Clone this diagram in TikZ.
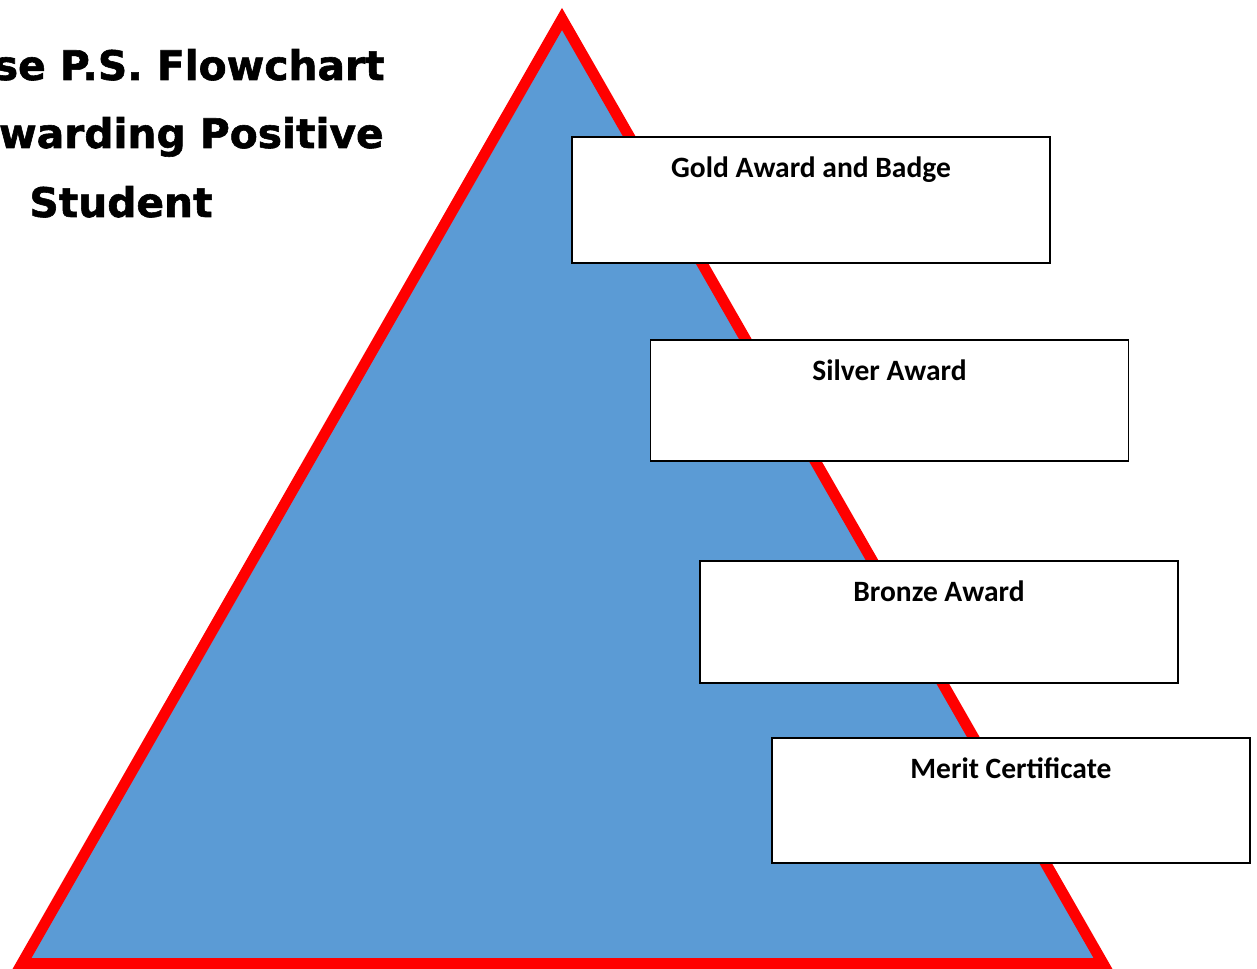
\documentclass[tikz,border=0pt]{standalone}
\usepackage{fontspec}
\setmainfont{Carlito}
\newfontfamily\titlefont[BoldFont={DejaVu Sans Bold},BoldFeatures={FakeBold=1.4}]{DejaVu Sans}
\usetikzlibrary{positioning}
\definecolor{pyrblue}{RGB}{91,155,213}
\definecolor{pyrred}{RGB}{255,0,0}

\begin{document}
\begin{tikzpicture}[x=0.02cm,y=-0.02cm,
    awardbox/.style={draw=black,line width=1pt,fill=white,inner sep=0pt,minimum width=9.56cm},
    awardtext/.style={font=\bfseries\fontsize{16.8pt}{19pt}\selectfont,anchor=base,inner sep=0pt},
    titletext/.style={font=\titlefont\bfseries\fontsize{23.2pt}{38.5pt}\selectfont,inner sep=0pt}]

\useasboundingbox (0,0) rectangle (1257,969);

% pyramid
\filldraw[fill=pyrblue,draw=pyrred,line width=0.22cm,miter limit=4]
    (562,19) -- (22,963.5) -- (1103,963.5) -- cycle;

% title
\node[titletext,anchor=base east] (title1) at (385,80) {se P.S. Flowchart};
\node[titletext,anchor=base east] (title2) at (384,148) {warding Positive};
\node[titletext,anchor=base] (title3) at (121,217) {Student};

% award boxes
\node[awardbox,minimum height=2.52cm] (gold) at (811,200) {};
\node[awardbox,minimum height=2.42cm] (silver) at (889.5,400.5) {};
\node[awardbox,minimum height=2.44cm] (bronze) at (939,622) {};
\node[awardbox,minimum height=2.50cm] (merit) at (1011,800.5) {};

\node[awardtext] (goldtxt) at ([yshift=-23.6pt]gold.north) {Gold Award and Badge};
\node[awardtext] (silvertxt) at ([yshift=-23.6pt]silver.north) {Silver Award};
\node[awardtext] (bronzetxt) at ([yshift=-23.6pt]bronze.north) {Bronze Award};
\node[awardtext] (merittxt) at ([yshift=-23.6pt]merit.north) {Merit Certificate};

\end{tikzpicture}
\end{document}
